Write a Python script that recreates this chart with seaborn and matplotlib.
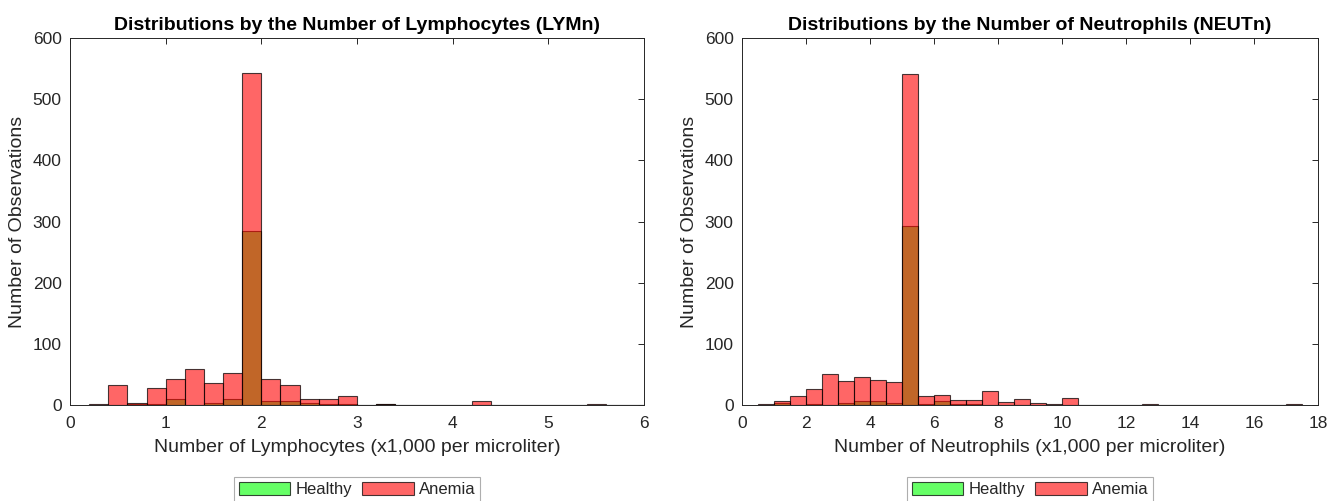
import numpy as np
import pandas as pd
import matplotlib
matplotlib.use("Agg")
import matplotlib.pyplot as plt
from matplotlib.patches import Patch
import seaborn as sns

# ---------------- data ----------------
lym_edges = [round(v, 2) for v in np.arange(0.2, 6.0001, 0.2)]     # 29 bins of 0.2
lym_anemia = [1, 32, 4, 27, 43, 59, 36, 53, 543, 42, 33, 10, 10, 14, 0,
              2, 0, 0, 0, 0, 6, 0, 0, 0, 0, 0, 2, 0, 0]
lym_healthy = [0, 0, 1, 2, 9, 0, 3, 10, 285, 7, 7, 4, 2, 1, 0,
               1, 0, 0, 0, 0, 0, 0, 0, 0, 0, 0, 0, 0, 0]

neut_edges = [round(v, 2) for v in np.arange(0.5, 17.5001, 0.5)]   # 34 bins of 0.5
neut_anemia = [1, 7, 15, 26, 50, 39, 46, 41, 37, 541, 15, 17, 8, 8, 23, 5, 10,
               3, 2, 11, 0, 0, 0, 0, 2, 0, 0, 0, 0, 0, 0, 0, 0, 2]
neut_healthy = [0, 3, 0, 2, 0, 3, 6, 6, 4, 292, 2, 6, 2, 2, 0, 0, 0,
                0, 0, 0, 0, 0, 0, 0, 0, 0, 0, 0, 0, 0, 0, 0, 0, 0]

groups = ["Healthy", "Anemia"]
titles = ["Distributions by the Number of Lymphocytes (LYMn)",
          "Distributions by the Number of Neutrophils (NEUTn)"]
xlabels = ["Number of Lymphocytes (x1,000 per microliter)",
           "Number of Neutrophils (x1,000 per microliter)"]
ylabel = "Number of Observations"
xlims = [(0, 6), (0, 18)]
xticks = [list(range(0, 7, 1)), list(range(0, 19, 2))]
yticks = list(range(0, 601, 100))

# ---------------- style ----------------
sns.set_style("white")
plt.rcParams["font.family"] = ["Liberation Sans", "DejaVu Sans"]
AX_COLOR = "#262626"
plt.rcParams["axes.edgecolor"] = AX_COLOR
plt.rcParams["xtick.color"] = AX_COLOR
plt.rcParams["ytick.color"] = AX_COLOR
plt.rcParams["text.color"] = AX_COLOR
plt.rcParams["axes.labelcolor"] = AX_COLOR

colors = {"Healthy": (0.0, 1.0, 0.0), "Anemia": (1.0, 0.0, 0.0)}
FACE_ALPHA = 0.6
EDGE = (0.0, 0.0, 0.0, 0.72)

fig = plt.figure(figsize=(13.42, 5.01), dpi=100)
ax1 = fig.add_axes([70 / 1342, 1 - 405 / 501, 574 / 1342, 367 / 501])
ax2 = fig.add_axes([742 / 1342, 1 - 405 / 501, 576 / 1342, 367 / 501])


def draw(ax, edges, healthy, anemia, title, xlabel, xlim, xt):
    e = np.asarray(edges, dtype=float)
    centers = (e[:-1] + e[1:]) / 2
    for name, counts in zip(groups, [healthy, anemia]):
        df = pd.DataFrame({"value": centers, "count": counts})
        start = len(ax.patches)
        sns.histplot(data=df, x="value", weights="count", bins=list(edges),
                     color=colors[name], alpha=FACE_ALPHA, ax=ax,
                     edgecolor="black", linewidth=0.8)
        for p in ax.patches[start:]:
            p.set_alpha(None)
            p.set_facecolor((*colors[name], FACE_ALPHA))
            p.set_edgecolor(EDGE)
    ax.set_xlim(*xlim)
    ax.set_ylim(0, 600)
    ax.set_xticks(xt)
    ax.set_yticks(yticks)
    ax.set_title(title, fontsize=14, fontweight="bold", pad=6, color="black")
    ax.set_xlabel(xlabel, fontsize=14, labelpad=6)
    ax.set_ylabel(ylabel, fontsize=14, labelpad=5)
    ax.tick_params(direction="in", length=4, width=0.7, top=True, right=True,
                   labelsize=12.5)
    ax.tick_params(axis="x", pad=8)
    ax.tick_params(axis="y", pad=6)
    for s in ax.spines.values():
        s.set_visible(True)
        s.set_linewidth(0.7)
        s.set_color(AX_COLOR)
    handles = [Patch(facecolor=(*colors[g], FACE_ALPHA), edgecolor=EDGE,
                     linewidth=0.8, label=g) for g in groups]
    leg = ax.legend(handles=handles, loc="upper center",
                    bbox_to_anchor=(0.5, -0.196), ncol=2, frameon=True,
                    fancybox=False, fontsize=12, handlelength=3.1,
                    handleheight=0.8, columnspacing=0.6, handletextpad=0.3,
                    borderpad=0.3, borderaxespad=0.0)
    leg.get_frame().set_edgecolor("#9a9a9a")
    leg.get_frame().set_linewidth(0.8)


draw(ax1, lym_edges, lym_healthy, lym_anemia, titles[0], xlabels[0],
     xlims[0], xticks[0])
draw(ax2, neut_edges, neut_healthy, neut_anemia, titles[1], xlabels[1],
     xlims[1], xticks[1])

fig.savefig("out.png", dpi=100)
